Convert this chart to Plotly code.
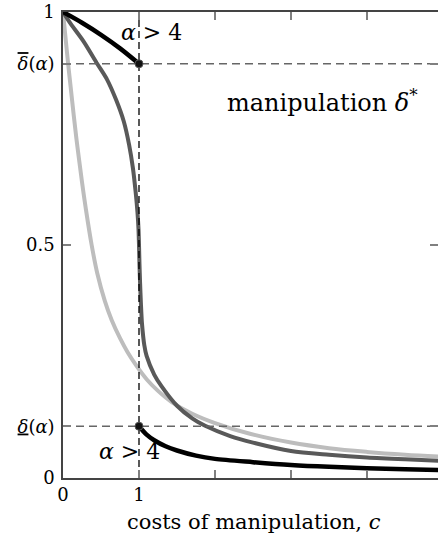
import plotly.graph_objects as go

# ---------------- data ----------------
d_hi = 8 / 9
d_lo = 1 / 9

black_hi_c = [0, 0.25, 0.5, 0.75, 1.0]
black_hi_v = [1.0, 0.977, 0.951, 0.922, 0.889]

black_lo_c = [1.0, 1.1, 1.2, 1.35, 1.5, 1.75, 2.0, 2.5, 3.0, 3.5, 4.0, 4.5, 4.95]
black_lo_v = [0.111, 0.093, 0.081, 0.068, 0.059, 0.048, 0.041, 0.034, 0.028, 0.024, 0.021, 0.019, 0.017]

dark_c = [0, 0.1, 0.27, 0.45, 0.58, 0.7, 0.8, 0.87, 0.92, 0.955, 0.98, 0.993, 1.0, 1.006,
          1.014, 1.025, 1.04, 1.07, 1.1, 1.2, 1.3, 1.5, 1.7, 1.87, 2.2, 2.5, 3.0, 3.5, 4.0, 4.5, 4.95]
dark_v = [1.0, 0.975, 0.937, 0.889, 0.855, 0.811, 0.765, 0.715, 0.665, 0.615, 0.57, 0.535, 0.5, 0.46,
          0.42, 0.375, 0.33, 0.285, 0.262, 0.222, 0.196, 0.155, 0.128, 0.112, 0.09, 0.076, 0.058,
          0.05, 0.044, 0.04, 0.037]

light_c = [0, 0.03, 0.07, 0.1, 0.14, 0.175, 0.21, 0.25, 0.3, 0.377, 0.45, 0.55, 0.64,
           0.75, 0.85, 0.97, 1.1, 1.25, 1.43, 1.7, 2.0, 2.46, 3.0, 3.5, 4.0, 4.5, 4.95]
light_v = [1.0, 0.95, 0.885, 0.84, 0.78, 0.73, 0.685, 0.635, 0.578, 0.5, 0.44, 0.38, 0.339,
           0.30, 0.27, 0.24, 0.212, 0.187, 0.163, 0.138, 0.118, 0.095, 0.076, 0.064, 0.056,
           0.05, 0.046]

x_ticks = [0, 1]
x_ticktext = ["0", "1"]
x_minor_ticks = [2, 3, 4]
x_top_ticks = [1, 2, 3, 4]
y_ticks = [0, d_lo, 0.5, d_hi, 1]
y_ticktext = ["0",
              "<span style=\"text-decoration:underline\"><i>δ</i></span>(<i>α</i>)",
              "0.5",
              "<span style=\"text-decoration:overline\"><i>δ</i></span>(<i>α</i>)",
              "1"]

X_MAX = 375 / 76
FONT = "DejaVu Serif"

fig = go.Figure()

fig.add_trace(go.Scatter(x=light_c, y=light_v, mode="lines",
                         line=dict(color="#bdbdbd", width=4, shape="spline", smoothing=1.0),
                         showlegend=False, hoverinfo="skip"))
fig.add_trace(go.Scatter(x=dark_c, y=dark_v, mode="lines",
                         line=dict(color="#595959", width=4, shape="spline", smoothing=0.8),
                         showlegend=False, hoverinfo="skip"))

# dashed guide lines
fig.add_trace(go.Scatter(x=[0, X_MAX + 0.1], y=[d_hi, d_hi], mode="lines",
                         line=dict(color="#666666", width=1.5, dash="8px,5px"),
                         showlegend=False, hoverinfo="skip"))
fig.add_trace(go.Scatter(x=[0, X_MAX + 0.1], y=[d_lo, d_lo], mode="lines",
                         line=dict(color="#666666", width=1.5, dash="8px,5px"),
                         showlegend=False, hoverinfo="skip"))
fig.add_trace(go.Scatter(x=[1, 1], y=[0, 1], mode="lines",
                         line=dict(color="#000000", width=1.3, dash="7px,4px"),
                         showlegend=False, hoverinfo="skip"))

fig.add_trace(go.Scatter(x=black_hi_c, y=black_hi_v, mode="lines",
                         line=dict(color="#000000", width=4.5, shape="spline", smoothing=0.8),
                         showlegend=False, hoverinfo="skip"))
fig.add_trace(go.Scatter(x=black_lo_c, y=black_lo_v, mode="lines",
                         line=dict(color="#000000", width=4.5, shape="spline", smoothing=0.8),
                         showlegend=False, hoverinfo="skip"))

fig.add_trace(go.Scatter(x=[1, 1], y=[d_hi, d_lo], mode="markers",
                         marker=dict(color="#111111", size=8, line=dict(color="#555555", width=1)),
                         showlegend=False, hoverinfo="skip"))

# invisible trace for the top / right mirrored axes
fig.add_trace(go.Scatter(x=[0], y=[0], xaxis="x2", yaxis="y2", mode="markers",
                         marker=dict(opacity=0), showlegend=False, hoverinfo="skip"))

fig.add_annotation(x=1.17, y=0.957, text="<i>α</i> > 4", showarrow=False,
                   font=dict(family=FONT, size=22, color="black"))
fig.add_annotation(x=0.88, y=0.056, text="<i>α</i> > 4", showarrow=False,
                   font=dict(family=FONT, size=22, color="black"))
fig.add_annotation(x=3.42, y=0.809, text="manipulation <i>δ</i><sup>*</sup>", showarrow=False,
                   font=dict(family=FONT, size=24, color="black"))
fig.add_annotation(xref="paper", yref="paper", x=0.51, y=-0.094, yanchor="middle",
                   text="costs of manipulation, <i>c</i>", showarrow=False,
                   font=dict(family=FONT, size=21, color="black"))

tick_style = dict(ticks="inside", ticklen=8, tickwidth=2, tickcolor="#808080")

fig.update_layout(
    width=438, height=537,
    margin=dict(l=63, r=0, t=12, b=59),
    paper_bgcolor="white", plot_bgcolor="white",
    font=dict(family=FONT, size=18, color="black"),
    xaxis=dict(range=[0, X_MAX], tickvals=x_ticks, ticktext=x_ticktext,
               **tick_style,
               minor=dict(tickvals=x_minor_ticks, ticks="inside", ticklen=8,
                          tickwidth=2, tickcolor="#808080"),
               showline=True, linecolor="#444444", linewidth=1.5, mirror=False,
               showgrid=False, zeroline=False, ticklabelstandoff=0,
               tickfont=dict(family=FONT, size=18)),
    xaxis2=dict(range=[0, X_MAX], overlaying="x", side="top", anchor="y",
                tickvals=x_top_ticks, **tick_style, showticklabels=False,
                showline=True, linecolor="#444444", linewidth=1.5,
                showgrid=False, zeroline=False),
    yaxis=dict(range=[0, 1], tickvals=y_ticks, ticktext=y_ticktext,
               **tick_style,
               showline=True, linecolor="#444444", linewidth=1.5, mirror=False,
               showgrid=False, zeroline=False, ticklabelstandoff=3,
               tickfont=dict(family=FONT, size=18)),
    yaxis2=dict(range=[0, 1], overlaying="y", side="right", anchor="x", tickvals=y_ticks,
                **tick_style,
                showticklabels=False, showline=False, showgrid=False, zeroline=False),
)

fig.write_html("out.html", config={"displayModeBar": False},
               post_script="document.body.style.margin='0px';")
